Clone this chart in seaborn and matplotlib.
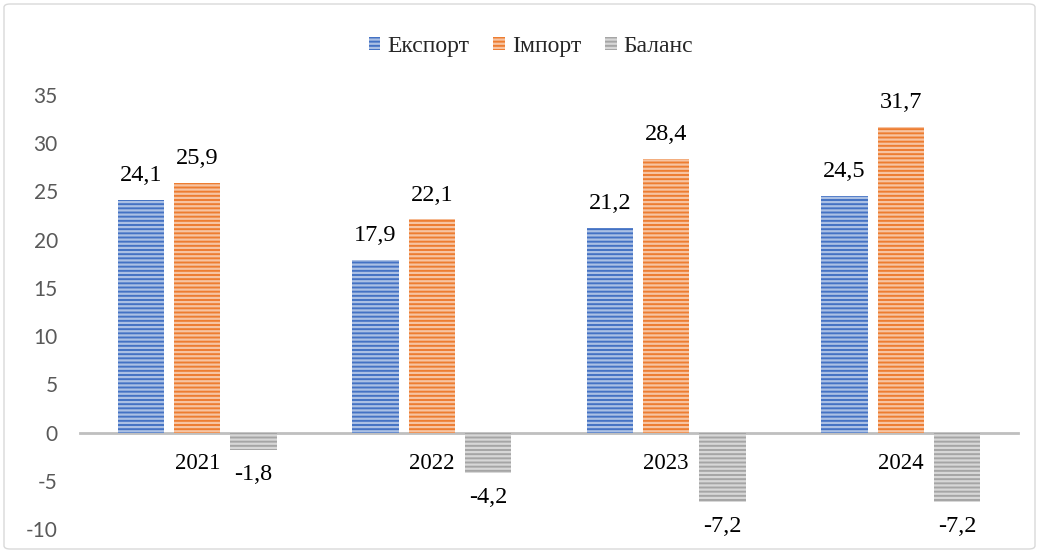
import matplotlib
matplotlib.use("Agg")
import matplotlib.pyplot as plt
import seaborn as sns
import pandas as pd
from matplotlib.patches import FancyBboxPatch
import matplotlib.colors as mcolors

years = ["2021", "2022", "2023", "2024"]
series_names = ["Експорт", "Імпорт", "Баланс"]
export_vals = [24.1, 17.9, 21.2, 24.5]
import_vals = [25.9, 22.1, 28.4, 31.7]
balance_vals = [-1.8, -4.2, -7.2, -7.2]
y_ticks = [-10, -5, 0, 5, 10, 15, 20, 25, 30, 35]
colors = ["#4472C4", "#ED7D31", "#A5A5A5"]

sns.set_style("white")
plt.rcParams["hatch.linewidth"] = 1.6

rows = []
for name, vals in zip(series_names, [export_vals, import_vals, balance_vals]):
    for y, v in zip(years, vals):
        rows.append({"year": y, "series": name, "value": v})
df = pd.DataFrame(rows)

fig = plt.figure(figsize=(10.39, 5.53), dpi=100)
ax = fig.add_axes([80 / 1039, 1 - 529 / 553, 938 / 1039, (529 - 95) / 553])

sns.barplot(data=df, x="year", y="value", hue="series", hue_order=series_names,
            palette=colors, width=0.72, gap=0.18, legend=False, ax=ax,
            errorbar=None, saturation=1)

def lighten(c, f):
    r, g, b = mcolors.to_rgb(c)
    return (r + (1 - r) * f, g + (1 - g) * f, b + (1 - b) * f)

serif = "Liberation Serif"
for cont, col in zip(ax.containers, colors):
    for p in cont.patches:
        p.set_facecolor(col)
        p.set_edgecolor(lighten(col, 0.55))
        p.set_hatch("----")
        p.set_linewidth(0)
    vals = [p.get_height() for p in cont.patches]
    labels = [f"{v:.1f}".replace(".", ",") for v in vals]
    ax.bar_label(cont, labels=labels, padding=10, fontsize=17.5, family=serif,
                 color="black")

ax.set_ylim(-10, 35)
ax.set_xlim(-0.5, 3.5)
ax.tick_params(axis="y", length=0, pad=16, labelsize=15, labelcolor="#595959",
               labelfontfamily="Lato")
ax.tick_params(axis="x", length=0, pad=15, labelsize=16.5, labelcolor="black",
               labelfontfamily=serif)
ax.set_yticks(y_ticks)
ax.set_yticklabels([str(t) for t in y_ticks])
ax.set_xticks(range(len(years)))
ax.set_xticklabels(years)
ax.set_xlabel("")
ax.set_ylabel("")
for s in ["left", "right", "top"]:
    ax.spines[s].set_visible(False)
ax.spines["bottom"].set_position(("data", 0))
ax.spines["bottom"].set_color("#BFBFBF")
ax.spines["bottom"].set_linewidth(2)
ax.spines["bottom"].set_zorder(0.5)
ax.grid(False)

leg = fig.legend(ax.containers, series_names, loc="center", bbox_to_anchor=(0.511, 0.916),
                 ncol=3, frameon=False, prop={"family": serif, "size": 17},
                 handlelength=0.5, handleheight=0.5, handletextpad=0.3, columnspacing=1.0)

border = FancyBboxPatch((4 / 1039, 4 / 553), 1 - 8 / 1039, 1 - 8 / 553,
                        boxstyle="round,pad=0,rounding_size=0.006",
                        transform=fig.transFigure, fill=False,
                        edgecolor="#D9D9D9", linewidth=1)
fig.patches.append(border)

fig.savefig("out.png", dpi=100)
